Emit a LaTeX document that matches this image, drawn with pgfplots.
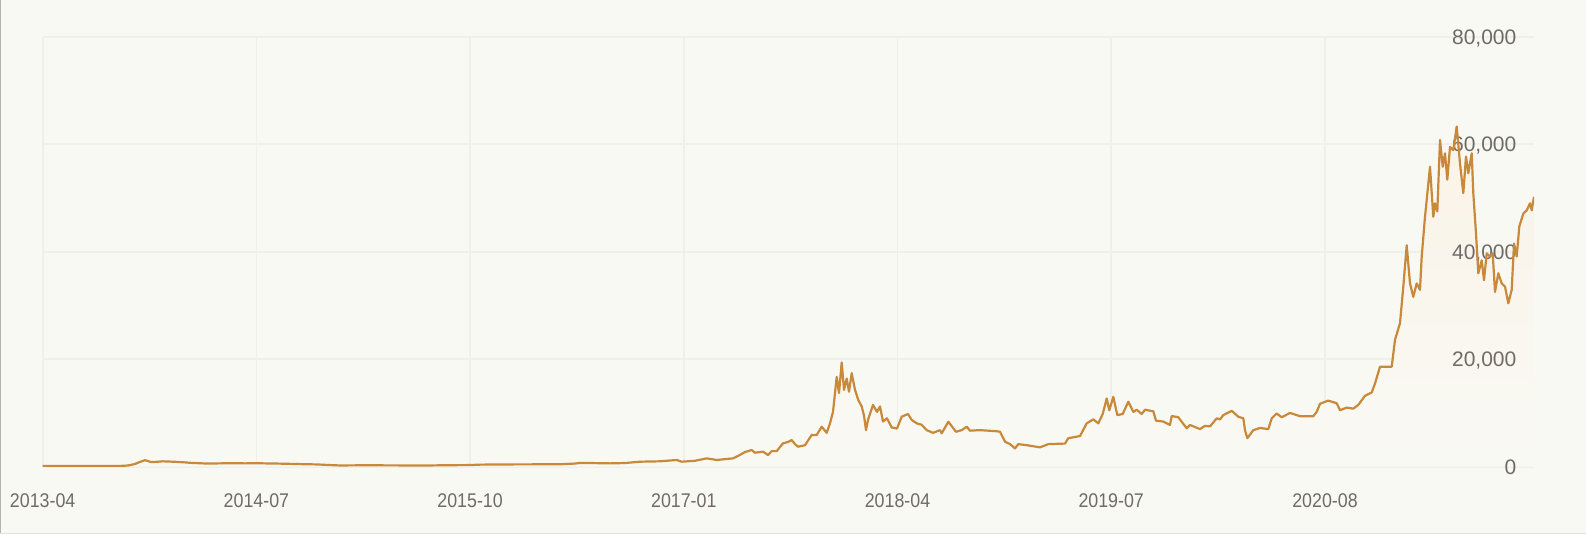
\documentclass[border=0pt]{standalone}
\usepackage{fontspec}
\setmainfont{Liberation Sans}
\newfontfamily\condfont[FakeStretch=0.9]{Liberation Sans}
\usepackage{pgfplots}
\pgfplotsset{compat=1.18}
\usepackage{pgfplotstable}
\definecolor{bg}{RGB}{249,249,244}
\definecolor{gridc}{RGB}{240,240,235}
\definecolor{labc}{RGB}{112,107,102}
\definecolor{linec}{RGB}{201,137,58}
\definecolor{fillc}{RGB}{250,243,231}
\definecolor{lborder}{RGB}{180,180,172}
\definecolor{bborder}{RGB}{226,226,220}

\pgfplotsset{
  basestyle/.style={
    at={(21.35pt,33.65pt)}, anchor=south west,
    scale only axis, width=745.65pt, height=215pt,
    xmin=42.7, xmax=1534, ymin=0, ymax=80000,
    axis line style={draw=none},
    major tick length=0pt,
    scaled y ticks=false, scaled x ticks=false,
    xtick={42.7,256.4,470.1,683.8,897.5,1111.2,1325},
    ytick={0,20000,40000,60000,80000},
  }
}

\pgfplotstableread{
x y
42.7 130
60 120
80 115
100 120
120 140
128 220
135 500
140 900
145 1200
148 1050
151 850
156 900
163 1000
170 950
176 900
185 800
192 700
200 640
208 580
220 620
233 640
245 620
257 640
270 600
283 560
300 480
317 420
330 300
340 230
355 250
367 260
400 240
433 240
450 280
469 300
480 380
500 420
520 430
540 440
560 450
575 580
580 700
590 680
610 620
625 680
640 930
660 1000
676.7 1250
681.7 930
695 1100
706.7 1550
716.7 1250
725 1400
733 1550
738 2000
745 2730
751.7 3100
755 2600
763 2800
768 2170
771.7 2900
776.7 2900
783 4350
788 4600
791.7 4960
795 4200
798 3720
805 4000
811.7 5900
816.7 5900
821.7 7440
826.7 6300
830 8070
833 10200
836.7 16700
839 13700
841.7 19400
844 14300
846.7 16400
849 13950
851.7 17400
855 14300
858.3 12400
861.7 11200
864 9500
866 6800
868 8700
873 11500
877 10200
880 11200
883 8400
887 9000
891.7 7300
897 7100
901.7 9300
908 9800
911.7 8700
916.7 8070
921.7 7800
926.7 6800
933 6300
940 6800
941.7 6200
948.3 8370
956 6500
961.7 6800
966.7 7440
970 6700
980 6800
996.7 6600
1000 6500
1005 4650
1010 4200
1015 3400
1018.3 4200
1026.7 4000
1040 3600
1048.3 4200
1065 4300
1068.3 5300
1080 5700
1086.7 8070
1093.3 8800
1098.3 8070
1102.7 9800
1106.7 12700
1109.3 10500
1113.3 13000
1117.3 9600
1122.7 9800
1128.3 12100
1133.3 10200
1136.7 10600
1141.7 9800
1145 10600
1153.3 10300
1156 8560
1163.3 8400
1170 7760
1171.7 9430
1178.3 9200
1186.7 7140
1190 7760
1200 7000
1205 7600
1210 7500
1216.7 9000
1220 8800
1223.3 9600
1231.7 10400
1238.3 9300
1243.3 9000
1245 6800
1247.3 5300
1253.3 6800
1260 7200
1268.3 7000
1271.7 9000
1276.7 9900
1281.7 9200
1290 10000
1300 9400
1313.3 9400
1316.7 10200
1320 11700
1328.3 12300
1336.7 11800
1340 10500
1346.7 11000
1353.3 10800
1358.3 11500
1365 13200
1371.7 13800
1375 15500
1380 18600
1385 18600
1391.7 18600
1395 23600
1400 26700
1403.3 33500
1406.7 41200
1410 34100
1413.3 31600
1416.7 34100
1420 32900
1421.7 39100
1425 46500
1430 55800
1433.3 46500
1435 49000
1437.3 47500
1440 60800
1442.7 55800
1445 58300
1447.3 53400
1450 59500
1453.3 58900
1456.7 63300
1460 56400
1463.3 50900
1466 57700
1468.3 54600
1471.7 58300
1473.3 50900
1476 43400
1478.3 36000
1481.7 38400
1484 34700
1486.7 39700
1490 39100
1492.7 39700
1495 32500
1498.3 36000
1501.7 34100
1505 33500
1508.3 30400
1511.7 32900
1514 41500
1516.7 39100
1519.3 44700
1523.3 47100
1526.7 47700
1530 49000
1531.7 47700
1534 50200
}\datatable

\begin{document}
\begin{tikzpicture}[x=1pt,y=1pt]
\fill[bg] (0,0) rectangle (793,267);
\useasboundingbox (0,0) rectangle (793,267);
\draw[lborder, line width=0.6pt] (0.3,0) -- (0.3,267);
\draw[bborder, line width=0.6pt] (0,0.3) -- (793,0.3);
\begin{axis}[
  basestyle,
  xticklabels={}, yticklabels={},
  grid=major,
  major grid style={gridc, line width=0.85pt},
]
\addplot[draw=none, top color=fillc, bottom color=bg, forget plot] table[x=x,y=y] {\datatable} \closedcycle;
\end{axis}
\begin{axis}[
  basestyle,
  xticklabels={2013-04,2014-07,2015-10,2017-01,2018-04,2019-07,2020-08},
  yticklabels={0,{20,000},{40,000},{60,000},{80,000}},
  yticklabel pos=right,
  xticklabel style={font=\condfont\fontsize{9.9}{11}\selectfont, text=labc, anchor=base, inner sep=0pt, yshift=-20.3pt},
  yticklabel style={font=\fontsize{10.5}{12}\selectfont, text=labc, anchor=base east, inner sep=0pt, xshift=-8.65pt, yshift=-3.75pt},
]
\addplot[linec, line width=1.1pt, line join=round] table[x=x,y=y] {\datatable};
\end{axis}
\end{tikzpicture}
\end{document}
